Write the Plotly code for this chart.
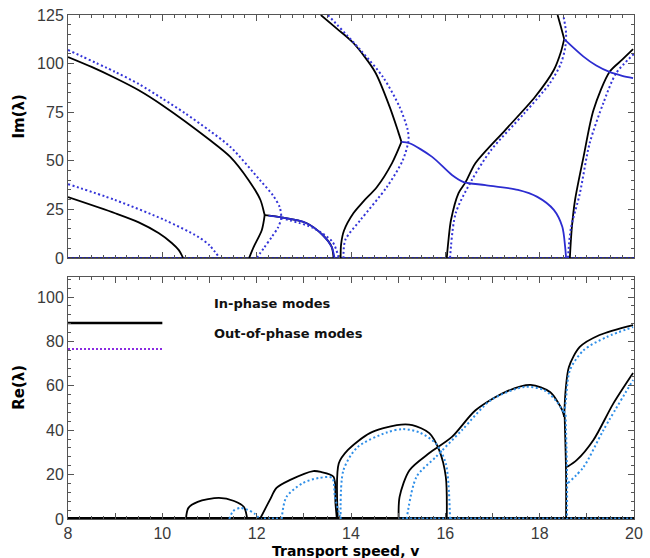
import plotly.graph_objects as go

# ---------------- data: top panel, Im(lambda) ----------------
# in-phase (black solid)
im_ip1a_x = [8.0, 8.5, 9.0, 9.5, 10.0, 11.0, 11.44, 11.83, 12.08, 12.16, 12.17]
im_ip1a_y = [103.4, 98.3, 92.6, 86.3, 78.6, 60.8, 52.0, 40.0, 29.8, 23.0, 22.0]
im_ip1b_x = [12.17, 12.11, 11.94, 11.84]
im_ip1b_y = [22.0, 14.4, 5.8, 0.0]
im_ip2_x = [12.17, 12.49, 13.05, 13.4, 13.59, 13.63]
im_ip2_y = [22.0, 21.0, 18.0, 11.8, 5.7, 0.0]
im_ip3_x = [8.0, 9.0, 9.5, 9.92, 10.2, 10.35, 10.44]
im_ip3_y = [31.3, 23.0, 18.3, 12.8, 7.7, 4.0, 0.0]
im_ip4a_x = [13.36, 13.7, 14.05, 14.51, 14.82, 15.0, 15.07]
im_ip4a_y = [125.0, 118.0, 110.6, 95.7, 77.7, 65.0, 59.7]
im_ip4b_x = [15.07, 14.87, 14.55, 14.26, 14.05, 13.85, 13.79, 13.78]
im_ip4b_y = [59.7, 48.8, 36.5, 29.0, 23.0, 14.0, 7.0, 0.0]
im_ip5a_x = [16.03, 16.07, 16.12, 16.28, 16.43, 16.64, 17.27, 17.9, 18.3, 18.45, 18.52]
im_ip5a_y = [0.0, 10.0, 19.5, 33.4, 39.0, 48.8, 65.8, 82.8, 96.7, 106.0, 112.6]
im_ip5b_x = [18.52, 18.45, 18.38]
im_ip5b_y = [112.6, 119.0, 125.0]
im_ip6_x = [18.64, 18.68, 18.75, 18.93, 19.14, 19.48, 19.75, 19.98]
im_ip6_y = [0.0, 15.0, 29.8, 52.0, 76.0, 95.7, 102.0, 107.4]
# out-of-phase (blue dotted)
im_op1_x = [8.0, 9.0, 9.5, 10.0, 10.48, 11.0, 11.45, 12.07, 12.35, 12.49, 12.52, 12.45, 12.32, 12.15, 12.0]
im_op1_y = [107.0, 95.7, 89.5, 82.0, 74.5, 65.5, 57.0, 40.0, 32.0, 26.0, 20.5, 15.5, 10.8, 5.0, 0.0]
im_op2_x = [12.52, 13.2, 13.61, 13.74]
im_op2_y = [20.5, 15.4, 8.2, 0.0]
im_op3_x = [8.0, 9.0, 10.05, 10.75, 11.0, 11.21]
im_op3_y = [38.0, 29.8, 19.5, 11.0, 6.5, 0.0]
im_op4_x = [13.51, 14.2, 14.68, 15.03, 15.2, 15.22, 15.1, 14.76, 14.2, 13.88, 13.84]
im_op4_y = [125.0, 107.0, 93.0, 77.7, 66.0, 60.7, 50.4, 36.5, 19.5, 9.3, 0.0]
im_op5_x = [16.1, 16.22, 16.56, 16.97, 17.68, 18.22, 18.45, 18.54, 18.56, 18.5]
im_op5_y = [0.0, 23.0, 40.0, 55.5, 74.6, 90.0, 100.0, 108.0, 115.7, 125.0]
im_op6_x = [18.6, 18.66, 18.85, 19.06, 19.35, 19.62, 20.0]
im_op6_y = [0.0, 15.0, 33.0, 59.0, 79.7, 95.0, 105.0]
# branches shared by both mode families (blue solid)
im_sh1_x = [15.07, 15.24, 15.72, 16.14, 16.39, 16.85, 17.54, 17.95, 18.3, 18.48, 18.54, 18.56]
im_sh1_y = [59.7, 59.0, 52.0, 42.7, 39.0, 37.5, 35.0, 31.4, 24.7, 16.0, 5.7, 0.0]
im_sh2_x = [18.52, 18.93, 19.2, 19.48, 19.75, 19.98]
im_sh2_y = [112.6, 103.6, 99.0, 95.7, 93.7, 92.5]
im_sh3_x = [12.25, 12.49, 13.05, 13.4, 13.59, 13.65]
im_sh3_y = [21.8, 21.0, 18.0, 11.8, 5.7, 0.0]

# ---------------- data: bottom panel, Re(lambda) ----------------
re_ip1_x = [10.5, 10.55, 10.75, 11.2, 11.52, 11.73, 11.8]
re_ip1_y = [0.0, 4.9, 7.7, 9.5, 8.1, 5.4, 0.0]
re_ip2_x = [12.07, 12.28, 12.42, 12.7, 13.2, 13.36, 13.63, 13.67, 13.7]
re_ip2_y = [0.0, 8.6, 14.0, 17.5, 21.6, 21.2, 19.0, 7.2, 0.0]
re_ip3_x = [13.72, 13.74, 13.93, 14.4, 14.97, 15.3, 15.66, 15.87, 16.01, 16.03]
re_ip3_y = [0.0, 25.0, 31.0, 38.7, 42.3, 42.3, 38.7, 31.0, 19.0, 0.0]
re_ip4a_x = [15.01, 15.03, 15.24, 15.66, 16.14, 16.64, 17.27, 17.81, 18.22, 18.48, 18.52]
re_ip4a_y = [0.0, 10.0, 22.0, 29.7, 37.0, 49.0, 57.2, 60.4, 57.2, 49.0, 46.0]
re_ip4b_x = [18.52, 18.55, 18.62, 18.85, 19.27, 19.98]
re_ip4b_y = [46.0, 58.0, 68.5, 77.5, 82.9, 87.4]
re_ip5_x = [18.53, 18.56, 18.56]
re_ip5_y = [46.0, 20.0, 0.0]
re_ip6_x = [18.58, 18.79, 19.14, 19.56, 19.98]
re_ip6_y = [23.4, 26.6, 35.6, 52.0, 65.8]
re_op1_x = [11.42, 11.5, 11.65, 11.8, 11.95, 12.07]
re_op1_y = [0.0, 3.5, 5.0, 4.2, 2.5, 0.0]
re_op2_x = [12.53, 12.63, 12.98, 13.32, 13.6, 13.66, 13.78]
re_op2_y = [0.0, 9.9, 16.2, 18.5, 18.5, 10.0, 0.0]
re_op3_x = [13.78, 13.84, 14.14, 14.76, 15.1, 15.45, 15.8, 16.01, 16.1]
re_op3_y = [0.0, 22.0, 32.4, 39.0, 40.5, 39.0, 34.0, 25.0, 0.0]
re_op4a_x = [15.18, 15.39, 15.8, 16.35, 16.97, 17.68, 18.1, 18.37, 18.52]
re_op4a_y = [0.0, 19.0, 28.0, 40.0, 53.6, 59.5, 58.0, 52.7, 47.7]
re_op4b_x = [18.52, 18.55, 18.64, 18.93, 19.42, 19.98]
re_op4b_y = [47.7, 52.0, 67.0, 76.0, 82.0, 86.5]
re_op5_x = [18.55, 18.58, 18.58]
re_op5_y = [47.0, 20.0, 0.0]
re_op6_x = [18.6, 18.93, 19.35, 19.98]
re_op6_y = [16.2, 23.4, 40.0, 62.6]

# zero baselines
base_x = [8.0, 20.0]
base_y = [0.0, 0.0]
re_op_base_x = [15.0, 20.0]
re_op_gap_x = [12.07, 12.53]

# legend samples
leg_x = [8.0, 10.0]
leg_ip_y = [88.3, 88.3]
leg_op_y = [76.6, 76.6]
leg_labels = ["In-phase modes", "Out-of-phase modes"]
leg_text_x = 11.05
leg_text_y = [97.3, 83.8]

x_ticks = list(range(8, 21))
x_tick_text = [str(v) if v % 2 == 0 else "" for v in x_ticks]
im_ticks = [0, 25, 50, 75, 100, 125]
re_ticks = [0, 20, 40, 60, 80, 100]

BLACK = "#000000"
BLUE_TOP = "#3434d8"
BLUE_SH = "#2c2cd0"
BLUE_BOT = "#2f8fe8"
PURPLE = "#8a2be2"

fig = go.Figure()


def add(x, y, color, width, dash, xa, ya, smooth=True):
    fig.add_trace(go.Scatter(x=x, y=y, mode="lines", xaxis=xa, yaxis=ya,
                             line=dict(color=color, width=width, dash=dash,
                                       shape="spline" if smooth else "linear",
                                       smoothing=0.8 if smooth else None),
                             showlegend=False, hoverinfo="skip"))


# top panel
add(base_x, base_y, BLACK, 1.5, "solid", "x", "y", False)
add(base_x, base_y, "#2020a0", 2, "2px,2px", "x", "y", False)
for xs, ys in [(im_ip1a_x, im_ip1a_y), (im_ip1b_x, im_ip1b_y), (im_ip2_x, im_ip2_y),
               (im_ip3_x, im_ip3_y), (im_ip4a_x, im_ip4a_y), (im_ip4b_x, im_ip4b_y),
               (im_ip5a_x, im_ip5a_y), (im_ip5b_x, im_ip5b_y), (im_ip6_x, im_ip6_y)]:
    add(xs, ys, BLACK, 1.8, "solid", "x", "y")
for xs, ys in [(im_op1_x, im_op1_y), (im_op2_x, im_op2_y), (im_op3_x, im_op3_y),
               (im_op4_x, im_op4_y), (im_op5_x, im_op5_y), (im_op6_x, im_op6_y)]:
    add(xs, ys, BLUE_TOP, 2, "2px,2.5px", "x", "y")
for xs, ys in [(im_sh1_x, im_sh1_y), (im_sh2_x, im_sh2_y), (im_sh3_x, im_sh3_y)]:
    add(xs, ys, BLUE_SH, 1.8, "solid", "x", "y")

# bottom panel
add(base_x, base_y, BLACK, 4, "solid", "x2", "y2", False)
add(re_op_base_x, base_y, BLUE_BOT, 3, "2px,2px", "x2", "y2", False)
add(re_op_gap_x, base_y, BLUE_BOT, 3, "2px,2px", "x2", "y2", False)
for xs, ys in [(re_ip1_x, re_ip1_y), (re_ip2_x, re_ip2_y), (re_ip3_x, re_ip3_y),
               (re_ip4a_x, re_ip4a_y), (re_ip4b_x, re_ip4b_y), (re_ip5_x, re_ip5_y),
               (re_ip6_x, re_ip6_y)]:
    add(xs, ys, BLACK, 1.8, "solid", "x2", "y2")
for xs, ys in [(re_op1_x, re_op1_y), (re_op2_x, re_op2_y), (re_op3_x, re_op3_y),
               (re_op4a_x, re_op4a_y), (re_op4b_x, re_op4b_y), (re_op5_x, re_op5_y),
               (re_op6_x, re_op6_y)]:
    add(xs, ys, BLUE_BOT, 2, "2px,2.5px", "x2", "y2")

# legend samples
add(leg_x, leg_ip_y, BLACK, 2.5, "solid", "x2", "y2", False)
add(leg_x, leg_op_y, PURPLE, 2, "2px,2px", "x2", "y2", False)

tick_font = dict(family="Liberation Sans, Arial, sans-serif", size=16, color="#3a3a3a")
axis_common = dict(showline=True, linecolor="#555555", linewidth=1, mirror="ticks",
                   ticks="inside", tickcolor="#555555", ticklen=6, showgrid=False,
                   zeroline=False, tickfont=tick_font, ticklabeloverflow="allow")

fig.update_layout(
    width=650, height=558,
    margin=dict(l=68, r=7, t=15, b=39),
    paper_bgcolor="white", plot_bgcolor="white",
    xaxis=dict(domain=[0, 1], anchor="y", range=[8, 20], tickvals=x_ticks,
               ticktext=x_tick_text, showticklabels=False,
               minor=dict(dtick=0.25, ticks="inside", ticklen=3, tickcolor="#555555"),
               **axis_common),
    yaxis=dict(domain=[0.518, 1], anchor="x", range=[0, 125], tickvals=im_ticks,
               minor=dict(dtick=5, ticks="inside", ticklen=3, tickcolor="#555555"),
               **axis_common),
    xaxis2=dict(domain=[0, 1], anchor="y2", range=[8, 20], tickvals=x_ticks,
                ticktext=x_tick_text,
                minor=dict(dtick=0.25, ticks="inside", ticklen=3, tickcolor="#555555"),
                **axis_common),
    yaxis2=dict(domain=[0, 0.48], anchor="x2", range=[0, 109], tickvals=re_ticks,
                minor=dict(dtick=4, ticks="inside", ticklen=3, tickcolor="#555555"),
                **axis_common),
)

title_font = dict(family="DejaVu Sans, Arial, sans-serif", size=15, color="#000000")
fig.add_annotation(text="<b>Im(λ)</b>", xref="paper", yref="paper", x=-0.087, y=0.798,
                   xanchor="center", yanchor="middle",
                   textangle=-90, showarrow=False, font=title_font)
fig.add_annotation(text="<b>Re(λ)</b>", xref="paper", yref="paper", x=-0.087, y=0.262,
                   xanchor="center", yanchor="middle",
                   textangle=-90, showarrow=False, font=title_font)
fig.add_annotation(text="<b>Transport speed, v</b>", xref="paper", yref="paper",
                   x=0.49, y=-0.0625, xanchor="center", yanchor="middle",
                   showarrow=False,
                   font=dict(family="DejaVu Sans, Arial, sans-serif", size=14, color="#000000"))
for txt, ty in zip(leg_labels, leg_text_y):
    fig.add_annotation(text="<b>" + txt + "</b>", xref="x2", yref="y2", x=leg_text_x, y=ty,
                       xanchor="left", showarrow=False,
                       font=dict(family="DejaVu Sans, sans-serif", size=13, color="#111111"))

fig.write_html("out.html")
